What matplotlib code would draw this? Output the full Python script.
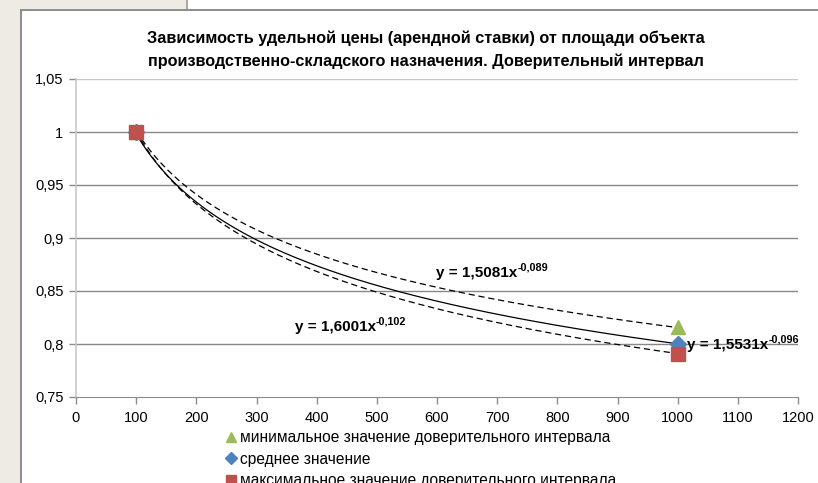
import numpy as np
import matplotlib
matplotlib.use("Agg")
import matplotlib.pyplot as plt
from matplotlib.patches import Rectangle
from matplotlib.lines import Line2D

plt.rcParams['font.family'] = ['Liberation Sans', 'DejaVu Sans']

# Data: relative unit price vs. object area
area = [100, 1000]
y_min_ci = [1.0, 0.8156]
y_mean = [1.0, 0.8003]
y_max_ci = [1.0, 0.7910]

# Power trend coefficients (a * x^b)
fit_min = (1.5081, -0.089)
fit_mean = (1.5531, -0.096)
fit_max = (1.6001, -0.102)

title = ("Зависимость удельной цены (арендной ставки) от площади объекта\n"
         "производственно-складского назначения. Доверительный интервал")
legend_labels = ["минимальное значение доверительного интервала",
                 "среднее значение",
                 "максимальное значение доверительного интервала"]
x_ticks = list(range(0, 1300, 100))
y_ticks = [0.75, 0.8, 0.85, 0.9, 0.95, 1.0, 1.05]
y_tick_labels = ["0,75", "0,8", "0,85", "0,9", "0,95", "1", "1,05"]

W, H = 818, 483
fig = plt.figure(figsize=(W / 100, H / 100), dpi=100)
fig.patch.set_facecolor("white")

# Window background around the chart frame
beige = "#EEEBE4"
fig.add_artist(Rectangle((0, 0), 21 / W, 1, transform=fig.transFigure,
                         facecolor=beige, edgecolor="none", zorder=0))
fig.add_artist(Rectangle((0, 1 - 10 / H), 187 / W, 10 / H, transform=fig.transFigure,
                         facecolor=beige, edgecolor="none", zorder=0))
fig.add_artist(Line2D([187 / W, 187 / W], [1 - 10 / H, 1], transform=fig.transFigure,
                      color="#9A9A9A", lw=1.2))
fig.add_artist(Line2D([21 / W, 1], [1 - 10 / H, 1 - 10 / H], transform=fig.transFigure,
                      color="#8C8C8C", lw=1.4))
fig.add_artist(Line2D([21 / W, 21 / W], [0, 1 - 10 / H], transform=fig.transFigure,
                      color="#8C8C8C", lw=1.4))

ax = fig.add_axes([76 / W, 1 - 397 / H, (798 - 76) / W, (397 - 79) / H])
ax.set_xlim(0, 1200)
ax.set_ylim(0.75, 1.05)
ax.set_xticks(x_ticks)
ax.set_xticklabels([str(t) for t in x_ticks])
ax.set_yticks(y_ticks)
ax.set_yticklabels(y_tick_labels)
ax.tick_params(axis="both", labelsize=10.5, colors="#8C8C8C", labelcolor="black",
               length=5, width=1, direction="out")
ax.tick_params(axis="x", pad=5)
ax.tick_params(axis="y", pad=4)

for y in y_ticks[1:-1]:
    ax.axhline(y, color="#878787", lw=1, zorder=1)
ax.axhline(1.05, color="#C8C8C8", lw=1, zorder=1)
for side in ["top", "right"]:
    ax.spines[side].set_visible(False)
ax.spines["left"].set_color("#C8C8C8")
ax.spines["bottom"].set_color("#8C8C8C")
ax.spines["left"].set_linewidth(1.2)

# Power trend lines between the measured areas
xs = np.linspace(area[0], area[1], 300)
for (a, b), ls in [(fit_min, (0, (5, 3))), (fit_mean, "-"), (fit_max, (0, (5, 3)))]:
    ax.plot(xs, a * xs ** b, color="black", lw=0.9, ls=ls, zorder=3)

ax.plot(area, y_min_ci, ls="none", marker="^", ms=10, color="#9BBB59", zorder=4,
        label=legend_labels[0])
ax.plot(area, y_mean, ls="none", marker="D", ms=8, color="#4F81BD", zorder=4,
        label=legend_labels[1])
ax.plot(area, y_max_ci, ls="none", marker="s", ms=10, color="#C0504D", zorder=5,
        label=legend_labels[2])

# Trend equations: main part plus a raised exponent
renderer = fig.canvas.get_renderer()

def fmt(v):
    return str(v).replace(".", ",")

def equation(x_px, base_px, a, b):
    main = fig.text(x_px / W, 1 - base_px / H, "y = %sx" % fmt(a), fontsize=11,
                    fontweight="bold", ha="left", va="baseline")
    ext = main.get_window_extent(renderer)
    fig.text(ext.x1 / W, 1 - (base_px - 6) / H, fmt(b), fontsize=7.8,
             fontweight="bold", ha="left", va="baseline")

equation(436, 277, *fit_min)
equation(295, 331, *fit_max)
equation(687, 349, *fit_mean)

fig.text(426 / W, 1 - 50 / H, title, ha="center", va="center", fontsize=11.7,
         fontweight="bold", linespacing=1.6)

leg = fig.legend(loc="upper left", bbox_to_anchor=(227 / W, 1 - 430 / H),
                 frameon=False, fontsize=11.2, handlelength=0.5, handletextpad=0.35,
                 labelspacing=0.42, borderaxespad=0, borderpad=0, markerscale=0.75)

fig.savefig("out.png", dpi=100)
